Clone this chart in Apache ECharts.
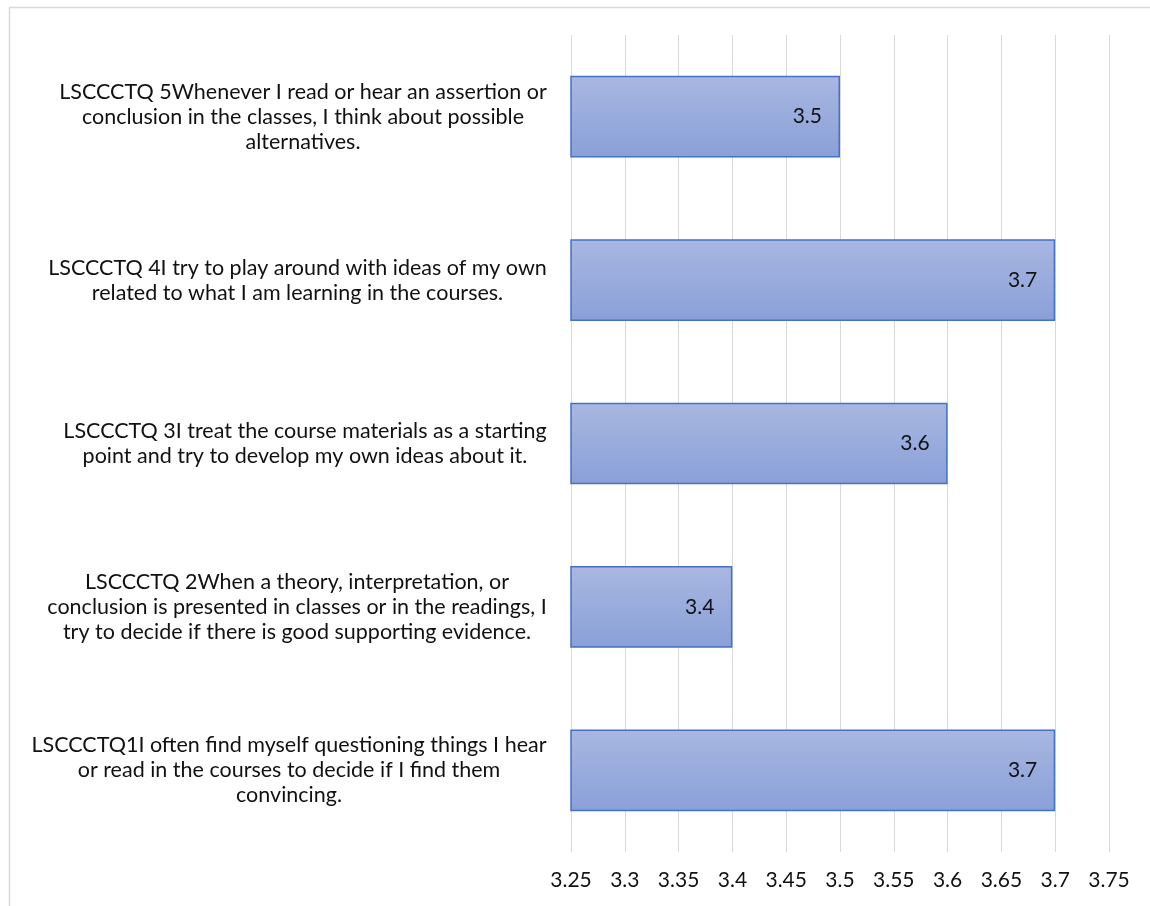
<!DOCTYPE html>
<html>
<head>
<meta charset="utf-8">
<script src="https://cdn.jsdelivr.net/npm/echarts@6/dist/echarts.min.js"></script>
<style>
html,body{margin:0;padding:0;background:#fff;}
#chart{width:1150px;height:906px;}
</style>
</head>
<body>
<div id="chart"></div>
<script>
// Categories listed bottom-to-top (as drawn on the y axis)
const categories = [
  "LSCCCTQ1I often find myself questioning things I hear\nor read in the courses to decide if I find them\nconvincing.",
  "LSCCCTQ 2When a theory, interpretation, or\nconclusion is presented in classes or in the readings, I\ntry to decide if there is good supporting evidence.",
  "LSCCCTQ 3I treat the course materials as a starting\npoint and try to develop my own ideas about it.",
  "LSCCCTQ 4I try to play around with ideas of my own\nrelated to what I am learning in the courses.",
  "LSCCCTQ 5Whenever I read or hear an assertion or\nconclusion in the classes, I think about possible\nalternatives."
];
const values = [3.7, 3.4, 3.6, 3.7, 3.5];
const xTicks = { min: 3.25, max: 3.75, interval: 0.05 };

const FONT = 'Lato';
const LABEL_SIZE = 21.5;
const chart = echarts.init(document.getElementById('chart'));

// measure widest line of each label so lines can be centred inside their block
const cv = document.createElement('canvas').getContext('2d');
cv.font = LABEL_SIZE + 'px ' + FONT;
const rich = {};
categories.forEach((c, i) => {
  const w = Math.max(...c.split('\n').map(l => cv.measureText(l).width));
  rich['c' + i] = {
    width: Math.ceil(w) + 2, align: 'center', fontSize: LABEL_SIZE,
    fontFamily: FONT, lineHeight: 25, color: '#111111'
  };
});

const option = {
  animation: false,
  backgroundColor: '#ffffff',
  graphic: [{
    type: 'rect', left: 7, top: 5, silent: true,
    shape: { x: 0, y: 0, width: 1300, height: 1100 },
    style: { fill: 'none', stroke: '#d9d9d9', lineWidth: 1.5 }
  }],
  grid: { left: 571, right: 41, top: 35, bottom: 54, containLabel: false },
  xAxis: {
    type: 'value', min: xTicks.min, max: xTicks.max, interval: xTicks.interval,
    axisLine: { show: false }, axisTick: { show: false },
    splitLine: { show: true, lineStyle: { color: '#d9d9d9', width: 1 } },
    axisLabel: {
      margin: 18, fontSize: 21, fontFamily: FONT, color: '#111111',
      formatter: v => String(+v.toFixed(2))
    }
  },
  yAxis: {
    type: 'category', data: categories,
    axisLine: { show: false }, axisTick: { show: false },
    axisLabel: {
      margin: 23, align: 'right',
      formatter: (v) => {
        const i = categories.indexOf(v);
        return v.split('\n').map(l => '{c' + i + '|' + l + '}').join('\n');
      },
      rich: rich
    }
  },
  series: [{
    type: 'bar', data: values, barWidth: '50%',
    itemStyle: {
      color: new echarts.graphic.LinearGradient(0, 0, 0, 1, [
        { offset: 0, color: '#a9b7e1' },
        { offset: 1, color: '#89a0d8' }
      ]),
      borderColor: '#4472c4', borderWidth: 1.5
    },
    label: {
      show: true, position: 'insideRight', distance: 18,
      fontSize: 21, fontFamily: FONT, color: '#111111',
      formatter: p => String(p.value)
    }
  }]
};
chart.setOption(option);
</script>
</body>
</html>
